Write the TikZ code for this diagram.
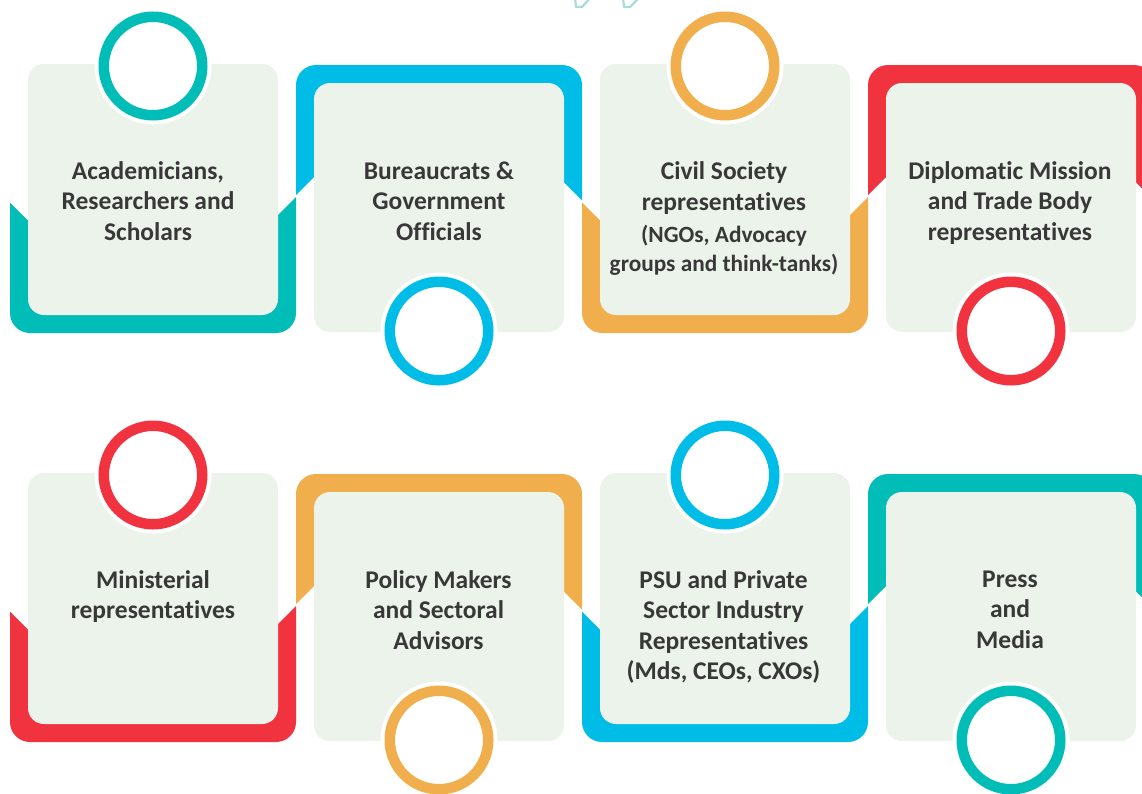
\documentclass[tikz,border=0pt]{standalone}
\usepackage{fontspec}
\setmainfont{Carlito}[Ligatures=NoCommon]
\definecolor{tealc}{HTML}{00BDB8}
\definecolor{bluec}{HTML}{00BDE7}
\definecolor{orangec}{HTML}{F0AF4C}
\definecolor{redc}{HTML}{F1323F}
\definecolor{cardc}{HTML}{ECF3EA}
\definecolor{txt}{HTML}{383838}
\definecolor{faint}{HTML}{A8DDD7}
\tikzset{
  lbl/.style={anchor=base, inner sep=0pt, text=txt, font=\fontsize{25.5}{30.5}\selectfont\bfseries},
  sublbl/.style={anchor=base, inner sep=0pt, text=txt, font=\fontsize{23.3}{29}\selectfont\bfseries},
  cardbox/.style={fill=cardc, rounded corners=16pt},
  halo/.style={fill=white},
  ring/.style={line width=10.5pt},
}
% card with coloured frame at the bottom and ring on top
\newcommand\cardBottom[3]{%
  \begin{scope}
    \clip ({#1-5},{#2+197.5}) -- ({#1+30},{#2+232.5}) -- ({#1+256},{#2+227}) -- ({#1+291},{#2+192}) -- ({#1+291},{#2+420}) -- ({#1-5},{#2+420}) -- cycle;
    \fill[#3, rounded corners=20pt] (#1,{#2+64}) rectangle ({#1+286},{#2+333});
  \end{scope}
  \fill[cardbox] ({#1+18},{#2+64}) rectangle ({#1+268},{#2+315});
  \fill[halo] ({#1+143},{#2+66}) circle[radius=58.5];
  \draw[ring, #3] ({#1+143},{#2+66}) circle[radius=49.25];
}
% card with coloured frame at the top and ring at the bottom
\newcommand\cardTop[3]{%
  \begin{scope}
    \clip ({#1-5},{#2-10}) -- ({#1+291},{#2-10}) -- ({#1+291},{#2+205.5}) -- ({#1+256},{#2+170.5}) -- ({#1+30},{#2+165}) -- ({#1-5},{#2+200}) -- cycle;
    \fill[#3, rounded corners=20pt] (#1,{#2+65}) rectangle ({#1+286},{#2+332});
  \end{scope}
  \fill[cardbox] ({#1+18},{#2+83}) rectangle ({#1+268},{#2+332});
  \fill[halo] ({#1+143},{#2+331}) circle[radius=58.5];
  \draw[ring, #3] ({#1+143},{#2+331}) circle[radius=49.25];
}
\begin{document}
\begin{tikzpicture}[x=1pt, y=-1pt]
  \useasboundingbox (0,0) rectangle (1142,793);
  \clip (0,0) rectangle (1142,793);
  % faint shapes at the top edge
  \draw[faint, line width=2.2pt, line join=round] (575,-2) -- (576,7) -- (582,7) -- (590,-2);
  \draw[faint, line width=2.2pt, line join=round] (623,-2) -- (624,7) -- (630,7) -- (639,-2);
  % row 1
  \cardBottom{10}{0}{tealc}
  \cardTop{296}{0}{bluec}
  \cardBottom{582}{0}{orangec}
  \cardTop{868}{0}{redc}
  % row 2
  \cardBottom{10}{409}{redc}
  \cardTop{296}{409}{orangec}
  \cardBottom{582}{409}{bluec}
  \cardTop{868}{409}{tealc}
  % texts
  \node[lbl] (t1) at (148,179) {\begin{tabular}[t]{@{}c@{}}Academicians,\\Researchers and\\Scholars\end{tabular}};
  \node[lbl] (t2) at (439,179) {\begin{tabular}[t]{@{}c@{}}Bureaucrats \&\\Government\\Officials\end{tabular}};
  \node[lbl] (t3) at (724,179.5) {\begin{tabular}[t]{@{}c@{}}Civil Society\\representatives\end{tabular}};
  \node[sublbl] (t3b) at (724,242) {\begin{tabular}[t]{@{}c@{}}(NGOs, Advocacy\\groups and think-tanks)\end{tabular}};
  \node[lbl] (t4) at (1010,179) {\begin{tabular}[t]{@{}c@{}}Diplomatic Mission\\and Trade Body\\representatives\end{tabular}};
  \node[lbl] (t5) at (153,588) {\begin{tabular}[t]{@{}c@{}}Ministerial\\representatives\end{tabular}};
  \node[lbl] (t6) at (438.5,588) {\begin{tabular}[t]{@{}c@{}}Policy Makers\\and Sectoral\\Advisors\end{tabular}};
  \node[lbl] (t7) at (723.5,588) {\begin{tabular}[t]{@{}c@{}}PSU and Private\\Sector Industry\\Representatives\\(Mds, CEOs, CXOs)\end{tabular}};
  \node[lbl] (t8) at (1010,587) {\begin{tabular}[t]{@{}c@{}}Press\\and\\Media\end{tabular}};
\end{tikzpicture}
\end{document}
